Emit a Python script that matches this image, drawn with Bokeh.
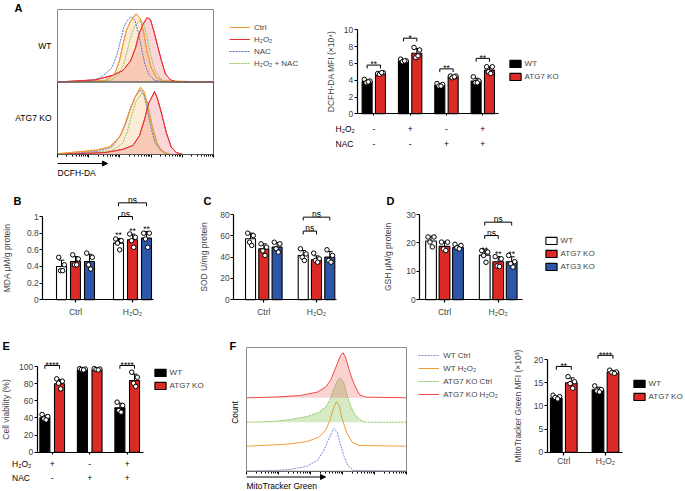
import numpy as np
from bokeh.plotting import figure
from bokeh.layouts import row, column
from bokeh.models import (Range1d, LinearAxis, FixedTicker, BoxAnnotation, Arrow,
                          NormalHead, Legend, LegendItem)
from bokeh.core.properties import value
from bokeh.embed import file_html
from bokeh.resources import INLINE

FONT = "Liberation Sans"
SX = 1.0
SY = 1.0

# ======================= DATA =======================
# --- A: DCFH-DA flow histograms (x: % of log axis, y: % of panel height)
A_WT_CTRL_X = [0, 20, 30.8, 36.6, 39.7, 42.0, 44.0, 46.6, 50.4, 53.0, 55.1, 57.3, 60.0, 63.2, 67.1, 100]
A_WT_CTRL_Y = [0, 0.5, 2, 11, 29, 52, 70, 83, 94, 88, 70, 43, 20, 7, 1.5, 0]
A_WT_H2O2_X = [0, 24.4, 35.0, 42.0, 46.8, 50.0, 52.1, 54.7, 57.5, 59.6, 61.8, 63.9, 66.7, 69.2, 72.4, 76.7, 100]
A_WT_H2O2_Y = [0, 3, 9, 16, 29, 47, 65, 79, 89, 86, 70, 52, 29, 11, 3, 0, 0]
A_WT_NAC_X = [0, 20, 26.5, 30.8, 35.0, 38.2, 40.4, 42.5, 44.7, 47.4, 49.6, 51.7, 53.8, 56.0, 58.5, 61.8, 67.1, 100]
A_WT_NAC_Y = [0, 1, 5, 11.5, 20, 38, 57, 75, 85, 90, 85, 69, 47, 25, 10.5, 3, 0, 0]
A_WT_HN_X = [0, 20, 34.0, 39.7, 42.5, 44.7, 46.8, 49.6, 53.2, 55.4, 57.5, 59.6, 62.4, 66.0, 70.3, 100]
A_WT_HN_Y = [0, 0.5, 2, 11, 25, 43, 61, 77, 86, 79, 61, 38, 16, 4.5, 0, 0]

A_KO_CTRL_X = [0, 24.4, 33.4, 39.7, 42.9, 46.2, 49.4, 53.2, 55.4, 58.1, 60.7, 63.9, 67.1, 72.4, 100]
A_KO_CTRL_Y = [1, 5.9, 10.4, 23.9, 39.6, 59.9, 77.9, 92.8, 86.9, 66.7, 39.6, 14.9, 4.5, 0, 0]
A_KO_H2O2_X = [0, 30.8, 42, 48.4, 52.6, 55.8, 58.5, 60.7, 62.2, 64.3, 67.1, 69.7, 72.9, 76.1, 80.4, 100]
A_KO_H2O2_Y = [0, 2.7, 7.2, 12.6, 26.1, 48.6, 71.2, 80.2, 86.9, 75.7, 53.2, 30.6, 10.4, 2.7, 0, 0]
A_KO_NAC_X = [0, 26.5, 35, 40.4, 44, 46.8, 50, 53.2, 55.4, 57.5, 59.6, 62.4, 66, 71.4, 100]
A_KO_NAC_Y = [0, 4.5, 10.4, 26.1, 44.1, 64.4, 80.2, 89.2, 82.4, 62.2, 39.6, 17.1, 5.9, 0, 0]
A_KO_HN_X = [0, 20.1, 35, 41.5, 44.7, 47.4, 50.4, 54.3, 56.4, 59, 61.8, 65, 69.2, 100]
A_KO_HN_Y = [0, 0.5, 5.9, 14.9, 30.6, 53.2, 73.4, 84.7, 77.9, 53.2, 26.1, 8.1, 0, 0]
A_HIST_LEGEND = ["Ctrl", "H₂O₂", "NAC", "H₂O₂ + NAC"]
A_ROWS = ["WT", "ATG7 KO"]

# --- A: DCFH-DA MFI bars
A_H2O2 = ["-", "+", "-", "+"]
A_NAC = ["-", "-", "+", "+"]
A_WT_MEAN = [3.85, 6.3, 3.4, 3.9]
A_KO_MEAN = [4.85, 7.2, 4.4, 5.2]
A_WT_PTS = [[4.1, 3.9, 3.7, 3.8], [6.5, 6.3, 6.2, 6.3], [3.6, 3.5, 3.3, 3.3], [4.4, 3.9, 3.7, 3.7]]
A_KO_PTS = [[4.8, 4.9, 4.7, 4.9], [7.9, 7.6, 6.7, 6.9], [4.5, 4.5, 4.3, 4.4], [5.6, 5.6, 5.0, 4.8]]
A_SIG_Y = [5.8, 9.0, 5.35, 6.6]
A_SIG = ["**", "*", "**", "**"]

# --- B/C/D: MDA, SOD, GSH
BCD_GROUPS = ["Ctrl", "H₂O₂"]
BCD_SERIES = ["WT", "ATG7 KO", "ATG3 KO"]
B_MEAN = [[0.40, 0.68], [0.46, 0.72], [0.46, 0.74]]
B_PTS = [[[0.51, 0.42, 0.35, 0.35], [0.73, 0.71, 0.68, 0.60]],
         [[0.54, 0.49, 0.42, 0.42], [0.79, 0.75, 0.71, 0.63]],
         [[0.56, 0.51, 0.42, 0.37], [0.80, 0.80, 0.73, 0.63]]]
B_STAR_Y = [0.824, 0.88, 0.904]
B_NS_Y = [1.0, 1.164]

C_MEAN = [[57.2, 41.6], [47.8, 37.5], [49.4, 40.0]]
C_PTS = [[[62.5, 60.3, 54, 51], [47.8, 43, 40, 36.9]],
         [[52.5, 49.4, 46, 41.6], [43.8, 38.4, 36.9, 35.3]],
         [[54, 52.5, 47.8, 44.7], [46.9, 41.6, 36.9, 35.3]]]
C_NS_Y = [64.4, 77.5]

D_MEAN = [[20.7, 15.7], [18.8, 13.4], [18.4, 13.4]]
D_PTS = [[[22.1, 22.1, 20.3, 18.6], [17.3, 16.8, 15.6, 13.2]],
         [[20.3, 20.3, 17.9, 17.3], [15.2, 14.4, 11.9, 11.7]],
         [[19.5, 19.1, 18.3, 17.9], [15.6, 13.4, 12.7, 11.5]]]
D_STAR_Y = [19.1, 17.6, 17.6]
D_NS_Y = [22.6, 27.3]

# --- E: cell viability
E_H2O2 = ["+", "-", "+"]
E_NAC = ["-", "+", "+"]
E_WT_MEAN = [40.1, 96.1, 51.8]
E_KO_MEAN = [79.8, 96.1, 83.7]
E_WT_PTS = [[44, 41.6, 38.9, 37.7], [97.5, 97, 96.5, 96], [58.4, 54.5, 48.6, 46.7]]
E_KO_PTS = [[85.6, 82.9, 80.5, 73.9], [97.5, 97, 96.5, 96], [93.4, 87.5, 80.5, 76.7]]
E_SIG = {0: 101.2, 2: 101.2}

# --- F: MitoTracker Green histograms (x: % of axis, y: counts, a.u.)
F_WTC_X = [0, 17.1, 27.5, 37.9, 44.2, 48.3, 51.5, 54.6, 56.7, 58.3, 60.8, 63.3, 67.1, 100]
F_WTC_Y = [0, 0.7, 1.7, 5, 10.7, 20.7, 32.3, 43, 39, 29, 15.7, 5.7, 0.7, 0]
F_WTH_X = [0, 17.1, 27.5, 37.9, 45.2, 49.4, 52.1, 54.2, 56.25, 57.9, 59.8, 62.5, 66, 70.2, 100]
F_WTH_Y = [0, 1.3, 2.3, 4.7, 9, 15.7, 25.7, 37.3, 44.7, 40.7, 27.3, 14, 4, 0.7, 0]
F_KOC_X = [0, 17.1, 27.5, 37.9, 45.2, 49.4, 52.5, 55, 57.1, 58.75, 60.8, 62.9, 65.4, 68.1, 72.3, 75.4, 100]
F_KOC_Y = [0, 0.7, 2.7, 5.7, 10, 15, 23.3, 35, 42.3, 44.3, 39.3, 26.7, 15, 6.7, 1, 0, 0]
F_KOH_X = [0, 17.1, 33.75, 44.2, 49.4, 52.5, 54.6, 56.7, 58.75, 60.4, 61.9, 64.0, 66.0, 68.1, 70.8, 74.4, 100]
F_KOH_Y = [0, 0.7, 2.3, 5.7, 10.7, 17.3, 25.7, 34, 42.3, 45, 40.7, 29, 19, 10.7, 3, 0.7, 0]
F_OFFSETS = [0, 25, 49, 73.4]
F_HIST_LEGEND = ["WT Ctrl", "WT H₂O₂", "ATG7 KO Ctrl", "ATG7 KO H₂O₂"]

# --- F: MFI bars
F_GROUPS = ["Ctrl", "H₂O₂"]
F_WT_MEAN = [11.7, 13.45]
F_KO_MEAN = [15.0, 17.3]
F_WT_PTS = [[12.3, 12.0, 11.8, 11.5], [14.3, 13.5, 13.2, 13.0]]
F_KO_PTS = [[16.3, 15.2, 14.8, 13.8], [17.7, 17.3, 17.2, 17.0]]
F_SIG_Y = [18.5, 20.9]
F_SIG = ["**", "****"]

# ======================= STYLE =======================
BAR_RED = "#DC2B26"
BAR_BLUE = "#2D56A8"
H_ORANGE = "#F39A33"
H_RED = "#E8303A"
H_BLUE = "#5C6FD0"
H_GREEN = "#8CC653"
FH_RED = "#F04A4A"
FH_GREEN = "#86C45A"
FH_ORANGE = "#F59B3A"
FH_BLUE = "#8088D8"
JIT = [-0.28, 0.28, -0.1, 0.12]
LBL = "8.5px"


def make_fig(X0, X1, Y0, Y1, xcal, ycal):
    xd1, xp1, xd2, xp2 = xcal
    kx = (xd2 - xd1) / (xp2 - xp1)
    yd1, yp1, yd2, yp2 = ycal
    ky = (yd2 - yd1) / (yp2 - yp1)

    def fx(px):
        return xd1 + (px - xp1) * kx

    def fy(py):
        return yd1 + (py - yp1) * ky

    w = round(X1 * SX) - round(X0 * SX)
    h = round(Y1 * SY) - round(Y0 * SY)
    p = figure(width=w, height=h, x_range=Range1d(fx(X0), fx(X1)), y_range=Range1d(fy(Y1), fy(Y0)),
               x_axis_type=None, y_axis_type=None, toolbar_location=None, output_backend="svg",
               min_border=0, min_border_left=0, min_border_right=0, min_border_top=0, min_border_bottom=0)
    p.outline_line_color = None
    p.background_fill_color = "white"
    p.border_fill_color = "white"
    geo = dict(fx=fx, fy=fy, dx=lambda n: n * kx, dy=lambda n: -n * ky, X0=X0, Y0=Y0, h=h)
    return p, geo


def txt(p, x, y, s, size="8px", align="left", baseline="middle", angle=0.0, style="normal"):
    p.text(x=[x], y=[y], text=[s], text_font=value(FONT), text_font_size=value(size),
           text_align=align, text_baseline=baseline, angle=angle, text_font_style=style,
           text_color="black")


def letter(p, geo, px, py, s):
    txt(p, geo["fx"](px), geo["fy"](py), s, size="11px", style="bold")


def y_axis(p, loc, ticks, label, standoff, overrides=None):
    ax = LinearAxis(fixed_location=loc, ticker=FixedTicker(ticks=ticks), bounds=(ticks[0], ticks[-1]))
    ax.axis_label = label
    ax.axis_label_text_font = FONT
    ax.axis_label_text_font_size = LBL
    ax.axis_label_text_font_style = "normal"
    ax.axis_label_standoff = standoff
    ax.major_label_text_font = FONT
    ax.major_label_text_font_size = LBL
    ax.major_label_standoff = 1
    ax.major_tick_out = 3
    ax.major_tick_in = 0
    ax.minor_tick_out = 0
    ax.axis_line_width = 1.2
    ax.major_tick_line_width = 1.2
    if overrides:
        ax.major_label_overrides = overrides
    p.add_layout(ax, "left")


def x_axis(p, bounds, ticks, labels=None, standoff=4, tick_out=3):
    ax = LinearAxis(fixed_location=0, ticker=FixedTicker(ticks=ticks), bounds=bounds)
    ax.major_tick_out = tick_out
    ax.major_tick_in = 0
    ax.minor_tick_out = 0
    ax.axis_line_width = 1.2
    ax.major_tick_line_width = 1.2
    ax.major_label_text_font = FONT
    ax.major_label_text_font_size = LBL
    ax.major_label_standoff = standoff
    if labels:
        ax.major_label_overrides = {t: l for t, l in zip(ticks, labels)}
    else:
        ax.major_label_text_alpha = 0
    p.add_layout(ax, "below")


def draw_bars(p, centers, series, offs, bw):
    rs = []
    for k, (means, pts, color) in enumerate(series):
        xs = [c + offs[k] for c in centers]
        r = p.vbar(x=xs, top=means, bottom=0, width=bw, fill_color=color, line_color="black", line_width=1.1)
        rs.append(r)
        sd = [float(np.std(v, ddof=1)) for v in pts]
        tops = [m + s for m, s in zip(means, sd)]
        cw = bw * 0.28
        p.segment(x0=xs, y0=means, x1=xs, y1=tops, line_color="black", line_width=1)
        p.segment(x0=[x - cw for x in xs], y0=tops, x1=[x + cw for x in xs], y1=tops,
                  line_color="black", line_width=1)
        sx, sy = [], []
        for x, v in zip(xs, pts):
            for j, val in enumerate(v):
                sx.append(x + JIT[j] * bw)
                sy.append(val)
        p.scatter(sx, sy, size=4.5, fill_color="white", line_color="black", line_width=1)
    return rs


def bracket(p, geo, x0, x1, y, label):
    leg = geo["dy"](3.3)
    p.line(x=[x0, x0, x1, x1], y=[y - leg, y, y, y - leg], line_color="black", line_width=1)
    off = geo["dy"](0.6) if "*" in label else geo["dy"](3.0)
    txt(p, (x0 + x1) / 2, y + off, label, size=LBL, baseline="alphabetic", align="center")


def bar_legend(p, geo, px, py_first, labels, renderers, pitch_px=13):
    rh, sp = 9, round(pitch_px * SY) - 9
    n = len(labels)
    x = (px - 1.4 - geo["X0"]) * SX
    top = (py_first - geo["Y0"]) * SY - rh / 2
    bottom = top + n * rh + (n - 1) * sp
    leg = Legend(items=[LegendItem(label=l, renderers=[r]) for l, r in zip(labels, renderers)],
                 location=(x, geo["h"] - bottom), glyph_width=14, glyph_height=rh, label_height=rh,
                 spacing=sp, padding=0, margin=0, label_standoff=3, border_line_color=None,
                 background_fill_alpha=0, label_text_font=FONT, label_text_font_size="8px")
    p.add_layout(leg)


def line_legend(p, geo, px, py_first, labels, renderers, pitch_px):
    rh, sp = 10, round(pitch_px * SY) - 10
    n = len(labels)
    x = (px - geo["X0"]) * SX
    top = (py_first - geo["Y0"]) * SY - rh / 2
    bottom = top + n * rh + (n - 1) * sp
    leg = Legend(items=[LegendItem(label=l, renderers=[r]) for l, r in zip(labels, renderers)],
                 location=(x, geo["h"] - bottom), glyph_width=21, glyph_height=rh, label_height=rh,
                 spacing=sp, padding=0, margin=0, label_standoff=4, border_line_color=None,
                 background_fill_alpha=0, label_text_font=FONT, label_text_font_size="8px")
    p.add_layout(leg)


def hist_axis(p):
    major = [0, 20, 40, 60, 80, 100]
    minor = [20 * d + 20 * np.log10(k) for d in range(5) for k in range(2, 10)]
    ax = LinearAxis(fixed_location=0, ticker=FixedTicker(ticks=major, minor_ticks=minor), bounds=(0, 100))
    ax.major_tick_out = 3
    ax.major_tick_in = 0
    ax.minor_tick_out = 2
    ax.minor_tick_in = 0
    ax.major_label_text_alpha = 0
    ax.axis_line_color = "#222222"
    p.add_layout(ax, "below")


def curve(p, x, y, base, color, dash="solid", fill_alpha=0.0):
    yy = [base + v for v in y]
    if fill_alpha > 0:
        p.varea(x=x, y1=[base] * len(x), y2=yy, fill_color=color, fill_alpha=fill_alpha)
    return p.line(x=x, y=yy, line_color=color, line_width=1, line_dash=dash)


# ======================= A: histograms =======================
pA, gA = make_fig(0, 300, 0, 186, (0, 57, 100, 213), (0, 154, 200, 9))
letter(pA, gA, 14, 7, "A")
for base, (cx, cy), (hx, hy), (nx, ny), (gx, gy) in [
        (100, (A_WT_CTRL_X, A_WT_CTRL_Y), (A_WT_H2O2_X, A_WT_H2O2_Y), (A_WT_NAC_X, A_WT_NAC_Y), (A_WT_HN_X, A_WT_HN_Y)),
        (0, (A_KO_CTRL_X, A_KO_CTRL_Y), (A_KO_H2O2_X, A_KO_H2O2_Y), (A_KO_NAC_X, A_KO_NAC_Y), (A_KO_HN_X, A_KO_HN_Y))]:
    curve(pA, hx, hy, base, H_RED, fill_alpha=0.2)
    curve(pA, cx, cy, base, H_ORANGE, fill_alpha=0.2)
    r_n = curve(pA, nx, ny, base, H_BLUE, dash="2 1")
    r_g = curve(pA, gx, gy, base, H_GREEN, dash="2 1")
    r_c2 = curve(pA, cx, cy, base, H_ORANGE)
    r_h2 = curve(pA, hx, hy, base, H_RED)
    if base == 100:
        legA = [r_c2, r_h2, r_n, r_g]
pA.add_layout(BoxAnnotation(left=0, right=100, bottom=100, top=200, fill_alpha=0, line_color="#8a8a8a", line_alpha=1, line_width=1))
pA.add_layout(BoxAnnotation(left=0, right=100, bottom=0, top=100, fill_alpha=0, line_color="#555555", line_alpha=1, line_width=1))
hist_axis(pA)
txt(pA, gA["fx"](51), 150, A_ROWS[0], size=LBL, align="right")
txt(pA, gA["fx"](51), 50, A_ROWS[1], size=LBL, align="right")
pA.add_layout(Arrow(end=NormalHead(size=5, fill_color="black", line_color="black", line_width=1),
                    x_start=0, y_start=gA["fy"](163), x_end=gA["fx"](107), y_end=gA["fy"](163), line_width=1))
txt(pA, 0, gA["fy"](172.5), "DCFH-DA", size=LBL)
line_legend(pA, gA, 229, 27, A_HIST_LEGEND, legA, 12.3)

# ======================= A: bars =======================
pAb, gAb = make_fig(300, 685, 0, 186, (1, 373.3, 4, 482.3), (0, 113.3, 10, 29.3))
centers = [1, 2, 3, 4]
y_axis(pAb, gAb["fx"](356.7), [0, 2, 4, 6, 8, 10], "DCFH-DA MFI (×10⁴)", 5)
x_axis(pAb, (gAb["fx"](356.7), gAb["fx"](498.3)), centers, tick_out=2)
offs = [-0.184, 0.184]
rs = draw_bars(pAb, centers, [(A_WT_MEAN, A_WT_PTS, "black"), (A_KO_MEAN, A_KO_PTS, BAR_RED)], offs, 0.275)
for c, y, s in zip(centers, A_SIG_Y, A_SIG):
    bracket(pAb, gAb, c + offs[0], c + offs[1], y, s)
txt(pAb, gAb["fx"](335), gAb["fy"](128), "H₂O₂", size=LBL)
txt(pAb, gAb["fx"](335), gAb["fy"](143), "NAC", size=LBL)
for c, a, b in zip(centers, A_H2O2, A_NAC):
    txt(pAb, c, gAb["fy"](128), a, size=LBL, align="center")
    txt(pAb, c, gAb["fy"](143), b, size=LBL, align="center")
bar_legend(pAb, gAb, 509, 63, ["WT", "ATG7 KO"], rs)


# ======================= B, C, D =======================
def bcd(X0, X1, xcal, ycal, ax_px, end_px, ticks, overrides, label, standoff, means, pts, offs, bw,
        ns_y, star_y, let, let_px):
    p, g = make_fig(X0, X1, 186, 338, xcal, ycal)
    letter(p, g, let_px, 200, let)
    cen = [1, 2]
    y_axis(p, g["fx"](ax_px), ticks, label, standoff, overrides)
    x_axis(p, (g["fx"](ax_px), g["fx"](end_px)), cen, BCD_GROUPS, standoff=4)
    rs = draw_bars(p, cen, [(means[0], pts[0], "white"), (means[1], pts[1], BAR_RED),
                            (means[2], pts[2], BAR_BLUE)], offs, bw)
    bracket(p, g, cen[1] + offs[0], cen[1] + offs[1], ns_y[0], "ns")
    bracket(p, g, cen[1] + offs[0], cen[1] + offs[2], ns_y[1], "ns")
    if star_y:
        for k, sy in enumerate(star_y):
            txt(p, cen[1] + offs[k], sy - g["dy"](4.3), "**", size=LBL, align="center", baseline="alphabetic")
    return p, g, rs


pB, gB, _ = bcd(0, 198, (1, 75, 2, 132), (0, 299.3, 1.0, 216), 42.3, 152.7,
                [0, 0.2, 0.4, 0.6, 0.8, 1.0], {0: "0"}, "MDA μM/g protein", 12,
                B_MEAN, B_PTS, [-0.2456, 0, 0.2456], 0.175, B_NS_Y, B_STAR_Y, "B", 13)
pC, gC, _ = bcd(198, 382, (1, 263.3, 2, 316), (0, 299.3, 80, 214), 233.3, 336,
                [0, 20, 40, 60, 80], None, "SOD U/mg protein", 8,
                C_MEAN, C_PTS, [-0.252, 0, 0.252], 0.19, C_NS_Y, None, "C", 203)
pD, gD, rsD = bcd(382, 685, (1, 444, 2, 497.7), (0, 299.3, 30, 214), 419.3, 521.7,
                  [0, 10, 20, 30], None, "GSH μM/g protein", 10,
                  D_MEAN, D_PTS, [-0.251, 0, 0.251], 0.2, D_NS_Y, D_STAR_Y, "D", 386)
bar_legend(pD, gD, 545, 240, BCD_SERIES, rsD, 13)

# ======================= E =======================
pE, gE = make_fig(0, 226, 338, 491, (1, 51.7, 3, 126.7), (0, 451.7, 100, 366))
letter(pE, gE, 2, 345, "E")
cen = [1, 2, 3]
y_axis(pE, gE["fx"](36.7), [0, 20, 40, 60, 80, 100], "Cell viability (%)", 5)
x_axis(pE, (gE["fx"](36.7), gE["fx"](143.3)), cen, tick_out=2)
offs = [-0.195, 0.195]
rsE = draw_bars(pE, cen, [(E_WT_MEAN, E_WT_PTS, "black"), (E_KO_MEAN, E_KO_PTS, BAR_RED)], offs, 0.267)
for gi, y in E_SIG.items():
    bracket(pE, gE, cen[gi] + offs[0], cen[gi] + offs[1], y, "****")
txt(pE, gE["fx"](11.5), gE["fy"](463.3), "H₂O₂", size=LBL)
txt(pE, gE["fx"](11.5), gE["fy"](477.3), "NAC", size=LBL)
for c, a, b in zip(cen, E_H2O2, E_NAC):
    txt(pE, c, gE["fy"](463.3), a, size=LBL, align="center")
    txt(pE, c, gE["fy"](477.3), b, size=LBL, align="center")
bar_legend(pE, gE, 154, 372, ["WT", "ATG7 KO"], rsE)

# ======================= F: histograms =======================
pF, gF = make_fig(226, 508, 338, 491, (0, 246, 100, 406), (0, 470.7, 123.7, 347))
letter(pF, gF, 229, 345, "F")
f_specs = [(F_WTC_X, F_WTC_Y, FH_BLUE, "2 1", 0.0),
           (F_WTH_X, F_WTH_Y, FH_ORANGE, "solid", 0.0),
           (F_KOC_X, F_KOC_Y, FH_GREEN, "2 1", 0.35),
           (F_KOH_X, F_KOH_Y, FH_RED, "solid", 0.25)]
legF = []
for (x, y, col, dash, fa), base in zip(f_specs, F_OFFSETS):
    legF.append(curve(pF, x, y, base, col, dash=dash, fill_alpha=fa))
pF.add_layout(BoxAnnotation(left=0, right=100, bottom=0, top=123.7, fill_alpha=0, line_color="#8a8a8a", line_alpha=1, line_width=1))
hist_axis(pF)
txt(pF, gF["fx"](234), gF["fy"](412), "Count", size=LBL, align="center", angle=np.pi / 2)
pF.add_layout(Arrow(end=NormalHead(size=5, fill_color="black", line_color="black", line_width=1),
                    x_start=0, y_start=gF["fy"](476.5), x_end=gF["fx"](325), y_end=gF["fy"](476.5), line_width=1))
txt(pF, 0, gF["fy"](485.5), "MitoTracker Green", size=LBL)
line_legend(pF, gF, 418.3, 355, F_HIST_LEGEND, legF, 12.7)

# ======================= F: bars =======================
pFb, gFb = make_fig(508, 685, 338, 491, (1, 563.3, 2, 605), (0, 451.7, 20, 359))
cen = [1, 2]
y_axis(pFb, gFb["fx"](546.7), [0, 5, 10, 15, 20], "MitoTracker Green MFI (×10³)", 8)
x_axis(pFb, (gFb["fx"](546.7), gFb["fx"](621.7)), cen, F_GROUPS, standoff=1)
offs = [-0.18, 0.18]
rsF = draw_bars(pFb, cen, [(F_WT_MEAN, F_WT_PTS, "black"), (F_KO_MEAN, F_KO_PTS, BAR_RED)], offs, 0.28)
for c, y, s in zip(cen, F_SIG_Y, F_SIG):
    bracket(pFb, gFb, c + offs[0], c + offs[1], y, s)
bar_legend(pFb, gFb, 633, 383, ["WT", "ATG7 KO"], rsF)

layout = column(row(pA, pAb, spacing=0), row(pB, pC, pD, spacing=0), row(pE, pF, pFb, spacing=0), spacing=0)

with open("out.html", "w") as f:
    f.write(file_html(layout, INLINE))
